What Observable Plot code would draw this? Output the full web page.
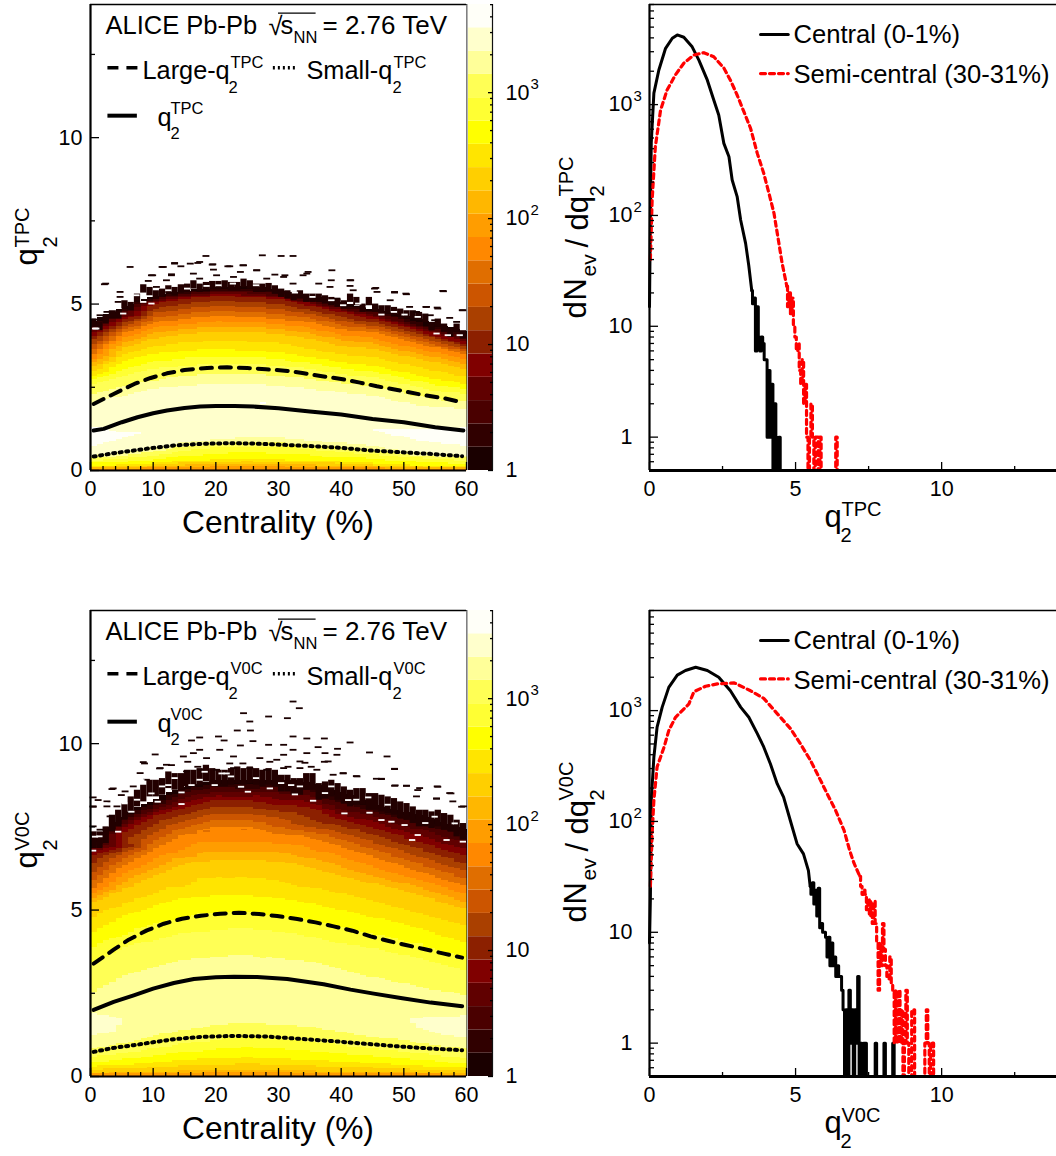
<!DOCTYPE html>
<html><head><meta charset="utf-8">
<script src="https://cdn.jsdelivr.net/npm/d3@7"></script>
<script src="https://cdn.jsdelivr.net/npm/@observablehq/plot@0.6"></script>
<style>
html,body{margin:0;padding:0;background:#fff}
#page{position:relative;width:1056px;height:1156px;overflow:hidden;font-family:"Liberation Sans",Arial,sans-serif}
#page svg{position:absolute;max-width:none;background:none;overflow:visible;font-family:"Liberation Sans",Arial,sans-serif}
</style></head><body><div id="page"></div>
<script>
// ---------- colour bands of the COLZ palette (bottom to top) ----------
const bandColors=["#1a0000","#300000","#4a0000","#600000","#800000","#8c2000","#aa4000","#cc5500","#e06e00","#ff8800","#ff9d00","#ffb700","#ffcf00","#ffe500","#ffff00","#ffff33","#ffff55","#ffff99","#ffffcc","#fffff8"];
const bandStep=0.185; // decades per band
const centralityColumns=[0,5,10,15,20,25,30,35,40,45,50,55,60];

// ---------- TPC map: q2 where the colour band changes, per centrality column ----------
const tpcUpper0 =[4.45,4.9,5.25,5.4,5.5,5.55,5.4,5.25,5.05,4.85,4.65,4.35,4.15];
const tpcUpper2 =[4.3,4.75,5.15,5.3,5.4,5.4,5.3,5.12,4.92,4.75,4.5,4.25,4.0];
const tpcUpper5 =[4.0,4.5,5.0,5.15,5.25,5.2,5.15,4.95,4.75,4.55,4.3,4.05,3.8];
const tpcUpper9 =[3.45,4.1,4.45,4.55,4.65,4.6,4.55,4.45,4.25,4.15,3.9,3.7,3.5];
const tpcUpper12=[3.1,3.7,3.95,4.1,4.15,4.15,4.1,3.95,3.75,3.65,3.45,3.25,3.05];
const tpcUpper14=[2.85,3.25,3.5,3.6,3.65,3.6,3.55,3.4,3.25,3.15,2.95,2.75,2.6];
const tpcUpper16=[2.55,2.85,3.05,3.15,3.2,3.2,3.15,3.05,2.9,2.8,2.6,2.4,2.3];
const tpcUpper18=[2.0,2.25,2.45,2.55,2.6,2.6,2.55,2.45,2.35,2.25,2.05,1.9,1.85];
const tpcPeakQ  =[.95,1.05,1.2,1.35,1.45,1.5,1.45,1.4,1.3,1.25,1.1,1.0,.95];
const tpcPeakLvl=[19.6,19.1,18.9,18.5,18.4,18.4,18.4,18.5,18.6,19.02,19.2,19.4,19.6];
const tpcLower18=[.45,.55,.7,.85,.95,1.0,1.0,.9,.85,.75,.6,.5,.45];
const tpcLower16=[.3,.35,.45,.6,.7,.7,.7,.65,.55,.5,.4,.35,.3];
const tpcLower14=[.15,.18,.22,.3,.33,.35,.33,.3,.28,.22,.18,.15,.13];

// ---------- V0C map ----------
const v0cUpper0 =[7.1,7.9,8.3,8.75,8.9,8.9,8.9,8.85,8.45,8.2,7.9,7.7,7.4];
const v0cUpper2 =[6.9,7.7,8.1,8.55,8.7,8.65,8.7,8.6,8.2,8.0,7.7,7.5,7.2];
const v0cUpper5 =[6.6,7.3,7.8,8.1,8.3,8.3,8.15,8.1,7.7,7.5,7.2,6.9,6.6];
const v0cUpper9 =[5.6,6.3,6.8,7.3,7.5,7.5,7.3,7.2,6.9,6.6,6.3,6.0,5.7];
const v0cUpper12=[5.2,5.6,6.0,6.4,6.5,6.5,6.45,6.3,6.0,5.8,5.6,5.3,5.0];
const v0cUpper14=[4.3,4.8,5.1,5.35,5.45,5.45,5.35,5.2,5.0,4.8,4.55,4.3,4.0];
const v0cUpper16=[3.35,3.85,4.1,4.3,4.4,4.45,4.35,4.2,4.0,3.85,3.65,3.4,3.2];
const v0cUpper17=[2.5,3.0,3.3,3.5,3.6,3.65,3.55,3.45,3.2,3.0,2.8,2.6,2.45];
const v0cPeakQ  =[1.5,1.75,2.0,2.2,2.4,2.45,2.4,2.3,2.1,2.0,1.8,1.55,1.4];
const v0cPeakLvl=[18.7,18.0,17.7,17.5,17.5,17.5,17.5,17.5,17.6,17.7,17.9,18.4,18.7];
const v0cLower17=[.85,1.0,1.25,1.4,1.55,1.6,1.55,1.5,1.35,1.2,1.1,.95,.85];
const v0cLower16=[.6,.7,.85,1.0,1.1,1.2,1.15,1.05,.95,.85,.75,.65,.55];
const v0cLower14=[.32,.35,.42,.5,.55,.58,.55,.5,.45,.4,.35,.3,.28];
const v0cLower12=[.12,.13,.16,.18,.2,.2,.2,.18,.16,.15,.13,.12,.1];

// ---------- highest well-filled q2 of each 1 % centrality bin ----------
const tpcFringeTop=[4.55,4.45,4.65,4.8,4.8,5.1,5.05,5.3,5.58,5.5,5.4,5.45,5.55,5.5,5.58,5.6,5.7,5.6,5.65,5.68,5.68,5.7,5.65,5.65,5.75,5.7,5.6,5.6,5.62,5.55,5.45,5.4,5.35,5.4,5.3,5.3,5.3,5.25,5.2,5.15,5.1,5.3,5.2,5.0,5.2,5.0,4.95,4.95,4.9,4.85,4.8,4.8,4.75,4.7,4.45,4.55,4.4,4.25,4.4,4.2];
const v0cFringeTop=[7.35,7.35,7.5,7.85,8.0,8.2,8.4,8.6,8.75,8.9,8.9,8.95,9.15,9.1,9.1,9.2,9.2,9.25,9.35,9.25,9.2,9.2,9.25,9.3,9.25,9.3,9.25,9.2,9.25,9.2,9.05,9.05,8.95,8.95,9.1,9.1,8.8,8.85,8.9,8.8,8.7,8.6,8.65,8.65,8.5,8.5,8.45,8.4,8.35,8.25,8.2,8.1,8.0,8.0,7.95,8.0,7.9,7.85,7.7,7.6];

// ---------- isolated single-count cells above the bulk ----------
const tpcSparseC=[18.5,27.5,30.5,32.4,6.4,11.5,13.5,16,17.5,14.5,19.5,22,24.5,26.6,38.6,9.8,13,16.5,19.7,24,29.5,34.6,34,2.5,41.5,41.5,45.6,48.6,50.4,56.4,53.6,55.4,59.4,45.8,42,38.3,36.5,39.4,54.3,57.4,55,58.5,4.8,4.8,4.5,2.7,1.6,.8,47.9,51,52.1,9.3,10.6,12.2,17.5,20.2,22.9,28.2,30.9,32.4,11.7,13.5,17.2,19.6,22.3,24.4,26.6,2.3,10,13,38.5,41.6,45.4,48.6,50.5,56.3,53.7,55.5,59.5,31.1,34.8];
const tpcSparseQ=[6.43,6.45,6.43,6.43,6.1,6.1,6.2,6.2,6.25,6.12,6.17,6.12,6.15,6.0,6.0,5.85,5.88,5.9,6.02,5.95,5.87,5.9,5.85,5.6,5.7,5.53,5.47,5.35,5.3,5.37,4.9,4.88,4.8,5.35,5.4,5.5,5.6,5.15,4.65,4.57,4.5,4.45,5.35,5.2,5.05,4.75,4.65,4.52,5.1,4.9,4.75,5.68,5.5,5.7,5.75,5.85,5.8,5.75,5.8,5.6,6.1,6.22,6.22,6.18,6.12,6.15,6.0,5.58,5.85,5.85,5.7,5.7,5.45,5.33,5.28,5.38,4.9,4.85,4.8,5.85,5.95];
const v0cSparseC=[32.4,33.4,24.5,28.5,31.5,25.5,23.5,25.6,32.4,34.6,37.4,41.5,17.5,20.5,26,28.5,16.2,21.4,24,30.9,32.4,39.5,36.4,44.6,47.4,10.4,16.5,17.5,20.7,30.9,34.6,37.5,39.4,48.6,8.5,12.2,14.9,18.6,22.9,27.1,29.8,33.5,38,40.4,42.6,45.7,46.5,48.7,50.5,52.6,55.4,57.4,52.1,55.3,57.9,59.6,.5,.5,2.7,3.5,5.6,6.9,9,8,11.2,2.7,4.3,3.2,.5,1.6,15.4,17.6,20.2,22.9,25.5,28.2,30.9,33.5,36.2,38.8,8.7,11.1,13,15.6,17.2,22.3,24.4,28.7,3.7,5,1.3,.5,31.6,34.3,37.4,35.3,40.4,42.5,46.5,48.6,48.6,50.5,52.3,55.5,57.6,55.3,59.3];
const v0cSparseQ=[11.25,11.05,10.9,10.8,10.75,10.65,10.38,10.38,10.2,10.14,10.14,10.02,10.17,10.2,10.06,9.95,10.08,10.08,9.93,9.95,9.8,9.83,9.88,9.72,9.6,9.66,9.7,9.8,9.8,9.65,9.7,9.7,9.65,9.23,9.43,9.35,9.6,9.55,9.6,9.55,9.5,9.45,9.45,9.1,9.0,8.93,8.93,8.73,8.72,8.65,8.7,8.5,8.4,8.33,8.25,8.1,8.37,8.1,8.25,8.62,8.55,8.7,8.9,9.1,9.25,8.1,8.1,7.8,7.5,7.4,9.15,9.2,9.2,9.25,9.25,9.2,9.25,9.25,9.2,9.05,9.39,9.24,9.34,9.44,9.29,9.39,9.39,9.44,8.64,8.44,8.29,8.09,9.29,9.41,9.44,9.29,9.09,9.01,8.92,9.22,8.72,8.72,8.59,8.69,8.49,8.34,8.09];

// ---------- empty cells inside the dark fringe ----------
const tpcHoleC=[5.3,1,8.5,9.8,7.4,18.6,22.8,26.5,.8,32.7,40.4,42.8,46.5,50.2,52.3,55.3,57.1,59,12.5,15.5,20.5,35.5,38.5,44.5,48.5];
const tpcHoleQ=[4.7,4.25,5.05,5.0,5.25,5.53,5.6,5.55,4.25,5.33,4.95,5.0,4.67,4.67,4.6,4.1,4.05,4.05,5.4,5.45,5.55,5.2,5.1,4.9,4.75];
const v0cHoleC=[2.3,6.6,4.5,.8,.5,10.8,14.6,14.6,19.9,21,16.2,25.2,28.7,18.3,24.1,12.5,9.8,8.2,5.5,21.8,32.7,35.6,32.1,40.6,44.4,44.6,46.5,48.1,50.2,51.4,52.3,56.9,59.5,55,58.2,41.2,7.5,11.5,13.5,17.5,22.5,26.5,30.5,33.5,37.5,38.5,42.5,47.5,53.5,1.5];
const v0cHoleQ=[8.19,7.94,7.34,7.19,6.77,8.24,8.17,8.52,8.74,9.09,8.74,8.54,8.64,9.14,8.69,8.74,8.49,8.89,8.19,9.09,8.46,8.27,8.74,7.89,8.37,7.91,7.69,7.64,7.54,7.09,7.24,7.09,7.04,7.79,7.59,8.29,8.3,8.7,8.95,8.9,9.0,8.95,8.8,8.7,8.5,8.7,8.3,8.15,7.6,7.2];

// ---------- mean and selection curves ----------
const tpcSolidC=[.5,2.1,5,7.5,10,12.2,15,17.5,20,23,26,30,35,40,45,50,55,59.5];
const tpcSolidQ=[1.2,1.25,1.45,1.6,1.72,1.8,1.88,1.92,1.94,1.94,1.92,1.87,1.77,1.68,1.55,1.45,1.3,1.2];
const tpcLargeC=[.5,3.7,7,9.6,12.2,15,18.6,21.8,25,28,31,33.8,36.7,40,43,45.7,49.5,53,56.4,59.3];
const tpcLargeQ=[2.0,2.3,2.6,2.78,2.92,3.02,3.08,3.1,3.08,3.04,3.0,2.93,2.84,2.75,2.64,2.53,2.4,2.27,2.17,2.05];
const tpcSmallC=[.5,3.7,6.9,10,13.3,17.6,21.8,26,31,35.6,40,44.7,49.5,54.2,59.3];
const tpcSmallQ=[.42,.52,.6,.68,.75,.8,.82,.81,.77,.73,.68,.6,.55,.5,.43];
const v0cSolidC=[.5,3.7,6.9,10,13.3,16.5,20,22.9,26.6,31.4,37.2,41.5,45.2,49.5,54.3,59.3];
const v0cSolidQ=[2.0,2.24,2.44,2.64,2.81,2.93,2.98,3.0,2.99,2.93,2.77,2.61,2.49,2.36,2.22,2.11];
const v0cLargeC=[.5,3.7,6.1,9,11.7,14.6,17.6,20.7,23.7,26.9,29.8,33,35.9,38.8,41.8,44.7,47.6,50.3,53.2,56.4,59.3];
const v0cLargeQ=[3.39,3.81,4.11,4.39,4.59,4.74,4.83,4.89,4.92,4.88,4.82,4.73,4.63,4.51,4.38,4.21,4.07,3.95,3.83,3.69,3.57];
const v0cSmallC=[.5,3.7,6.9,10,13.3,17.6,22.9,28.2,33.5,38.8,44.1,49.5,54.3,59.3];
const v0cSmallQ=[.74,.86,.94,1.03,1.12,1.19,1.22,1.2,1.13,1.06,.98,.9,.84,.79];

// ---------- q2 distributions ----------
const tpcCentralX=[0,.03,.06,.15,.32,.55,.78,.95,1.175,1.46,1.69,1.98,2.2,2.37,2.545,2.72,2.83,3.0,3.12,3.29,3.4,3.5];
const tpcCentralN=[15,100,450,1270,2050,3220,3970,4250,4050,3320,2520,1660,1100,805,447,339,209,148,91,56,35,21];
const tpcCentralTailX=[3.5,3.55,3.6,3.65,3.7,3.75,3.8,3.85,3.9,3.95,4.0,4.05,4.1,4.15,4.2,4.25,4.3,4.35,4.4,4.45,4.5];
const tpcCentralTailN=[21,16,18,6,15,8,6,8,7,5,5,1,4,1,3,0,2,1,0,1,0];
const tpcSemiX=[.03,.09,.2,.38,.6,.89,1.18,1.52,1.86,2.2,2.545,2.77,3.0,3.23,3.46,3.69,3.91,4.09,4.26,4.43,4.54,4.7];
const tpcSemiN=[40,137,417,895,1350,1860,2370,2800,2940,2700,2140,1660,1220,863,611,363,240,158,105,56,37,23];
const tpcSemiTailX=[4.7,4.75,4.8,4.85,4.9,4.95,5.0,5.05,5.1,5.15,5.2,5.25,5.3,5.35,5.4,5.45,5.5,5.55,5.6,5.65,5.7,5.75,5.8,5.85,5.9,6.35,6.4,6.45];
const tpcSemiTailN=[23,15,20,13,18,10,8,6,7,4,3,5,2,3,1,0,1,2,1,0,1,1,0,1,0,0,1,0];
const v0cCentralX=[0,.03,.06,.15,.26,.435,.66,.95,1.23,1.58,1.98,2.37,2.77,3.12,3.4,3.69,3.91,4.14,4.37,4.59,4.82,5.05,5.27,5.44,5.5];
const v0cCentralN=[8,20,155,380,710,1075,1620,2090,2300,2460,2300,2000,1510,1075,870,620,470,330,219,166,102,63,51,36,26];
const v0cCentralTailX=[5.5,5.55,5.6,5.65,5.7,5.75,5.8,5.85,5.9,5.95,6.0,6.05,6.1,6.15,6.2,6.25,6.3,6.35,6.4,6.45,6.5,6.55,6.6,6.65,6.7,6.75,6.8,6.85,6.9,6.95,7.0,7.05,7.1,7.15,7.2,7.25,7.3,7.35,7.4,7.45,7.7,7.75,7.8,8.0,8.05,8.1,8.3,8.35,8.4];
const v0cCentralTailN=[26,22,28,18,24,14,25,11,12,10,10,9,6,9,5,8,5,6,4,5,4,4,3,2,0,2,0,3,1,2,0,2,1,4,0,1,0,1,1,0,0,1,0,0,1,0,0,1,0];
const v0cSemiX=[.03,.09,.15,.26,.5,.66,.89,1.35,1.52,1.92,2.32,2.9,3.46,3.91,4.37,4.82,5.17,5.51,5.8,6.08,6.37,6.66,6.85,7.0,7.2];
const v0cSemiN=[26,78,155,310,470,660,870,1150,1480,1660,1740,1780,1510,1290,940,690,500,355,251,178,126,83,55,42,32];
const v0cSemiTailX=[7.2,7.25,7.3,7.35,7.4,7.45,7.5,7.55,7.6,7.65,7.7,7.75,7.8,7.85,7.9,7.95,8.0,8.05,8.1,8.15,8.2,8.25,8.3,8.35,8.4,8.45,8.5,8.55,8.6,8.65,8.7,8.75,8.8,8.85,8.9,8.95,9.0,9.05,9.1,9.4,9.45,9.5,9.55,9.6,9.65,9.7,9.75];
const v0cSemiTailN=[32,26,22,24,22,16,20,14,19,12,19,12,8,3,8,5,12,7,5,4,3.8,6,3.5,3,1,3,1,3,1,2,0,1,3,1,0,0,2,2,0,0,1,2,1,0,1,1,0];

// ---------- tick values ----------
const centMajor=[0,10,20,30,40,50,60], centMinor=[2,4,6,8,12,14,16,18,22,24,26,28,32,34,36,38,42,44,46,48,52,54,56,58];
const qMajor=[0,5,10], qMinor=[2.5,7.5,12.5];
const histXMajor=[0,5,10], histXMinor=[2.5,7.5,12.5];
const decades=[1,10,100,1000];
const histMinor=[.6,.7,.8,.9,2,3,4,5,6,7,8,9,20,30,40,50,60,70,80,90,200,300,400,500,600,700,800,900,2000,3000,4000,5000,6000,7000,8000];
const barMinor=[2,3,4,5,6,7,8,9,20,30,40,50,60,70,80,90,200,300,400,500,600,700,800,900,2000,3000,4000,5000];

// ---------- helpers ----------
const page=document.getElementById("page");
const zip2=(xs,ys)=>xs.map((x,i)=>({x,y:ys[i]}));
function place(svg,left,top){svg.style.left=left+"px";svg.style.top=top+"px";page.appendChild(svg);}
const F="Liberation Sans";
// text addressed relative to the panel's frame corner
function T(txt,dx,dy,size,extra={}){return Plot.text([txt],{frameAnchor:"top-left",dx,dy,fontSize:size,textAnchor:"start",lineAnchor:"bottom",fill:"black",fontFamily:F,...extra});}
const inX=(vals,len)=>Plot.axisX(vals,{anchor:"bottom",tickSize:-len,tickFormat:()=>"",strokeWidth:1.3,label:null});
const inY=(vals,len,anchor="left")=>Plot.axisY(vals,{anchor,tickSize:-len,tickFormat:()=>"",strokeWidth:1.3,label:null});
const sampleRows=(rows)=>rows.flatMap(([lvl,qs])=>qs.map((q,i)=>({c:centralityColumns[i],q,v:Array.isArray(lvl)?lvl[i]:lvl})));
const flat=(n,v)=>centralityColumns.map(()=>v);

function heatPanel(o){
  const mT=o.top, fh=466, fw=376, mL=90, mB=70;
  const solid=zip2(o.solid[0],o.solid[1]),large=zip2(o.large[0],o.large[1]),small=zip2(o.small[0],o.small[1]);
  const legend=(x0,x1,yv,extra)=>Plot.line([{x:x0,y:yv},{x:x1,y:yv}],{x:"x",y:"y",stroke:"black",strokeLinecap:"butt",...extra});
  const sparse=zip2(o.sparse[0],o.sparse[1]), holes=zip2(o.holes[0],o.holes[1]);
  const fringe=o.fringe.map((top,i)=>({i,top}));
  const svg=Plot.plot({width:mL+fw,height:mT+fh+mB,marginLeft:mL,marginTop:mT,marginRight:0,marginBottom:mB,
    style:{fontFamily:F,background:"none",overflow:"visible"},
    x:{domain:[0,60],axis:null,label:null},y:{domain:[0,14],axis:null,label:null},
    color:{type:"threshold",domain:d3.range(0,20),range:["#ffffff",...bandColors]},
    marks:[
      Plot.ruleX([60],{stroke:"black",strokeWidth:1.6}),
      Plot.raster(o.samples,{x:"c",y:"q",fill:"v",x1:0,x2:60,y1:0,y2:14,width:60,height:280,interpolate:"barycentric",imageRendering:"pixelated"}),
      Plot.rect(fringe,{x1:d=>d.i,x2:d=>d.i+1,y1:d=>d.top-o.depth,y2:"top",fill:"#220000"}),
      Plot.rect(sparse,{x1:d=>d.x-.55,x2:d=>d.x+.55,y1:d=>d.y-.027,y2:d=>d.y+.027,fill:"#1a0000"}),
      Plot.rect(holes,{x1:d=>d.x-.5,x2:d=>d.x+.5,y1:d=>d.y-.027,y2:d=>d.y+.027,fill:"white"}),
      Plot.line(large,{x:"x",y:"y",stroke:"black",strokeWidth:4,strokeDasharray:"11,8"}),
      Plot.line(solid,{x:"x",y:"y",stroke:"black",strokeWidth:4}),
      Plot.line(small,{x:"x",y:"y",stroke:"black",strokeWidth:4,strokeDasharray:"2,4.6"}),
      inX(centMajor,8),inX(centMinor,4),inY(qMajor,9),inY(qMinor,5),
      Plot.axisX(centMajor,{anchor:"bottom",tickSize:0,tickPadding:10,fontSize:21.5,label:null}),
      Plot.axisY(qMajor,{anchor:"left",tickSize:0,tickPadding:8,fontSize:21.5,label:null}),
      Plot.ruleX([0],{stroke:"black",strokeWidth:2.2}),
      Plot.ruleY([0],{stroke:"black",strokeWidth:2.2}),
      Plot.ruleY([14],{stroke:"black",strokeWidth:1.6}),
      T("Centrality (%)",91.5,528,31.7),
      T("ALICE Pb-Pb",15,29,25.5),
      T("√",178,30,25.5),T("s",190,29,25.5),T("NN",203,38,16.5),
      Plot.ruleY([13.74],{x1:30,x2:36,stroke:"black",strokeWidth:1.2}),
      T("= 2.76 TeV",232,29,26),
      legend(2.7,7.5,12.1,{strokeWidth:3.6,strokeDasharray:"11,8"}),
      T("Large-q",52,74,25.3),T("2",138,88,16.5),T(o.det,140,63,16.5),
      legend(29.1,33,12.1,{strokeWidth:3.6,strokeDasharray:"2,3"}),
      T("Small-q",216,74,25.3),T("2",302,88,16.5),T(o.det,303,63,16.5),
      legend(2.7,7.4,10.66,{strokeWidth:4}),
      T("q",67,121,25.3),T("2",80,134,16.5),T(o.det,80,109,16.5),
      T("q",-53.5,o.yLab,31,{rotate:-90}),T("2",-34,o.yLab-18,20,{rotate:-90}),T(o.det,-62,o.yLab-18,20,{rotate:-90}),
    ]});
  place(svg,0,o.svgTop-mT);
}
function colorBar(o){
  const bands=bandColors.map((c,i)=>({c,y1:Math.pow(10,i*bandStep),y2:Math.pow(10,(i+1)*bandStep)}));
  const svg=Plot.plot({width:24,height:466+o.top+20,marginLeft:0,marginRight:0,marginTop:o.top,marginBottom:20,
    style:{fontFamily:F,background:"none",overflow:"visible"},
    x:{domain:[0,1],axis:null},y:{type:"log",domain:[1,Math.pow(10,20*bandStep)],axis:null},
    marks:[
      Plot.rect(bands,{x1:0,x2:1,y1:"y1",y2:"y2",fill:"c"}),
      Plot.ruleX([1],{stroke:"#111",strokeWidth:1.2}),
      inY(decades,5,"right"),inY(barMinor,3,"right"),
      Plot.axisY(decades,{anchor:"right",tickSize:0,tickPadding:13,fontSize:21.5,label:null,tickFormat:d=>d<10?"1":"10",textAnchor:"start"}),
      Plot.text([{d:100,e:"2"},{d:1000,e:"3"}],{y:"d",text:"e",frameAnchor:"right",dx:38,dy:-8,fontSize:15,textAnchor:"start",fill:"black",fontFamily:F}),
    ]});
  place(svg,468,o.svgTop-o.top);
}
function histPanel(o){
  const mT=o.top, fh=466, fw=409, mL=109, mB=80;
  const cl=n=>Math.max(n,.5);
  const line=(a,b,extra,curve)=>Plot.line(zip2(a,b),{x:"x",y:d=>cl(d.y),curve,...extra});
  const blk={stroke:"black",strokeWidth:3}, red={stroke:"#ff0000",strokeWidth:3.2,strokeDasharray:"5,4"};
  const svg=Plot.plot({width:mL+fw,height:mT+fh+mB,marginLeft:mL,marginTop:mT,marginRight:0,marginBottom:mB,
    style:{fontFamily:F,background:"none",overflow:"visible"},
    x:{domain:[0,14],axis:null},y:{type:"log",domain:[.5,8000],axis:null},
    marks:[
      line(o.cx,o.cn,blk,"linear"),line(o.ctx,o.ctn,blk,"step"),
      line(o.sx,o.sn,red,"linear"),line(o.stx,o.stn,red,"step"),
      inX(histXMajor,8),inX(histXMinor,4),inY(decades,9),inY(histMinor,5),
      Plot.axisX(histXMajor,{anchor:"bottom",tickSize:0,tickPadding:10,fontSize:21.5,label:null}),
      Plot.axisY(decades,{anchor:"left",tickSize:0,tickPadding:17,fontSize:21.5,label:null,tickFormat:d=>d<10?"1":"10"}),
      Plot.text([{d:100,e:"2"},{d:1000,e:"3"}],{y:"d",text:"e",frameAnchor:"left",dx:-16,dy:-8,fontSize:15,textAnchor:"start",fill:"black",fontFamily:F}),
      Plot.ruleX([0],{stroke:"black",strokeWidth:2.2}),
      Plot.ruleY([.5],{stroke:"black",strokeWidth:3}),
      Plot.ruleY([8000],{stroke:"black",strokeWidth:1.6}),
      Plot.line([{x:3.8},{x:4.75}].map(d=>({...d,y:o.legY1})),{x:"x",y:"y",...blk}),
      Plot.line([{x:3.8},{x:4.75}].map(d=>({...d,y:o.legY2})),{x:"x",y:"y",...red}),
      T("Central (0-1%)",144,38,25.6),
      T("Semi-central (30-31%)",144,78,25.6),
      T("q",175,522,31),T("2",191,537,20),T(o.det,192,511,20),
      T("d",-64,o.yl,31,{rotate:-90}),T("N",-64,o.yl-18,31,{rotate:-90}),T("ev",-54,o.yl-42,21,{rotate:-90}),
      T("/",-62,o.yl-71,31,{rotate:-90}),T("dq",-62,o.yl-88,31,{rotate:-90}),
      T("2",-46,o.yl-122,20,{rotate:-90}),T(o.det,-77,o.yl-122,20,{rotate:-90}),
    ]});
  place(svg,540,o.svgTop-mT);
}

// ---------- build ----------
const tpcSamples=sampleRows([[-1,flat(0,14)],[0,tpcUpper0],[2,tpcUpper2],[5,tpcUpper5],[9,tpcUpper9],[12,tpcUpper12],[14,tpcUpper14],[16,tpcUpper16],[18,tpcUpper18],[tpcPeakLvl,tpcPeakQ],[18,tpcLower18],[16,tpcLower16],[14,tpcLower14],[9,flat(0,0)]]);
const v0cSamples=sampleRows([[-1,flat(0,14)],[0,v0cUpper0],[2,v0cUpper2],[5,v0cUpper5],[9,v0cUpper9],[12,v0cUpper12],[14,v0cUpper14],[16,v0cUpper16],[17,v0cUpper17],[v0cPeakLvl,v0cPeakQ],[17,v0cLower17],[16,v0cLower16],[14,v0cLower14],[12,v0cLower12],[9,flat(0,0)]]);

heatPanel({top:10,svgTop:4,det:"TPC",samples:tpcSamples,sparse:[tpcSparseC,tpcSparseQ],holes:[tpcHoleC,tpcHoleQ],fringe:tpcFringeTop,depth:.25,solid:[tpcSolidC,tpcSolidQ],large:[tpcLargeC,tpcLargeQ],small:[tpcSmallC,tpcSmallQ],yLab:261});
colorBar({top:10,svgTop:4});
histPanel({top:10,svgTop:4,det:"TPC",cx:tpcCentralX,cn:tpcCentralN,ctx:tpcCentralTailX,ctn:tpcCentralTailN,sx:tpcSemiX,sn:tpcSemiN,stx:tpcSemiTailX,stn:tpcSemiTailN,legY1:4290,legY2:1905,yl:314});
heatPanel({top:10,svgTop:610,det:"V0C",samples:v0cSamples,sparse:[v0cSparseC,v0cSparseQ],holes:[v0cHoleC,v0cHoleQ],fringe:v0cFringeTop,depth:.5,solid:[v0cSolidC,v0cSolidQ],large:[v0cLargeC,v0cLargeQ],small:[v0cSmallC,v0cSmallQ],yLab:258});
colorBar({top:10,svgTop:610});
histPanel({top:10,svgTop:610,det:"V0C",cx:v0cCentralX,cn:v0cCentralN,ctx:v0cCentralTailX,ctn:v0cCentralTailN,sx:v0cSemiX,sn:v0cSemiN,stx:v0cSemiTailX,stn:v0cSemiTailN,legY1:4300,legY2:1930,yl:312});
</script></body></html>
